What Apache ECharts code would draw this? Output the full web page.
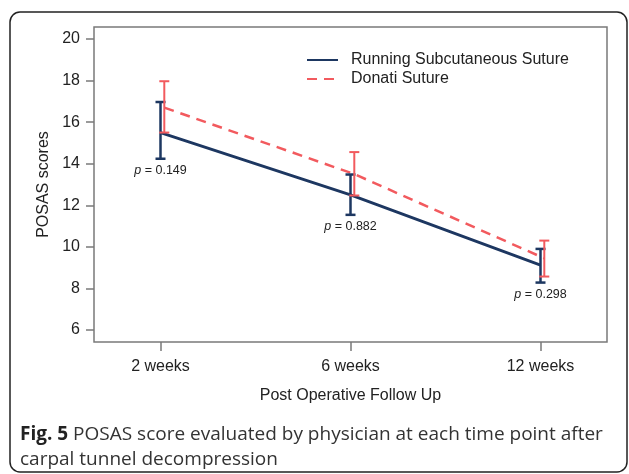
<!DOCTYPE html>
<html>
<head>
<meta charset="utf-8">
<script src="https://cdn.jsdelivr.net/npm/echarts@6/dist/echarts.min.js"></script>
<style>
  html, body { margin: 0; padding: 0; background: #fff; }
  #chart { width: 629px; height: 474px; }
</style>
</head>
<body>
<div id="chart"></div>
<script>
// time points
const categories = ['2 weeks', '6 weeks', '12 weeks'];
const yTicks = [6, 8, 10, 12, 14, 16, 18, 20];

// Running Subcutaneous Suture
const runningMean = [15.5, 12.5, 9.12];
const runningLow = [14.24, 11.54, 8.28];
const runningHigh = [16.97, 13.48, 9.9];

// Donati Suture
const donatiMean = [16.7, 13.5, 9.45];
const donatiLow = [15.5, 12.47, 8.57];
const donatiHigh = [17.97, 14.56, 10.3];

const pValues = ['0.149', '0.882', '0.298'];

const NAVY = '#1d3761';
const RED = '#f25a5e';
const FONT = '"Liberation Sans", Arial, sans-serif';
const dodge = 0.02;

function errorSeries(name, low, high, shift, color, width, withP) {
  return {
    name: name,
    type: 'custom',
    z: 5,
    data: low.map((v, i) => [i + shift, v, high[i], i]),
    renderItem: function (params, api) {
      const x = api.value(0);
      const lo = api.coord([x, api.value(1)]);
      const hi = api.coord([x, api.value(2)]);
      const cap = 5;
      const children = [
        { type: 'line', shape: { x1: lo[0], y1: lo[1], x2: hi[0], y2: hi[1] }, style: { stroke: color, lineWidth: width } },
        { type: 'line', shape: { x1: hi[0] - cap, y1: hi[1], x2: hi[0] + cap, y2: hi[1] }, style: { stroke: color, lineWidth: width } },
        { type: 'line', shape: { x1: lo[0] - cap, y1: lo[1], x2: lo[0] + cap, y2: lo[1] }, style: { stroke: color, lineWidth: width } }
      ];
      if (withP) {
        children.push({
          type: 'text',
          x: lo[0],
          y: lo[1] + 5,
          style: {
            text: '{i|p} = ' + pValues[api.value(3)],
            align: 'center',
            verticalAlign: 'top',
            fill: '#222',
            font: '12.5px ' + FONT,
            rich: { i: { fontStyle: 'italic', fontSize: 12.5, fontFamily: FONT, fill: '#222' } }
          }
        });
      }
      return { type: 'group', children: children };
    }
  };
}

const chart = echarts.init(document.getElementById('chart'));
chart.setOption({
  animation: false,
  backgroundColor: '#fff',
  grid: {
    left: 94, right: 22, top: 27, bottom: 132,
    show: true, borderColor: '#7a7a7a', borderWidth: 1.5
  },
  legend: {
    orient: 'vertical',
    left: 301, top: 47,
    itemWidth: 31, itemHeight: 14, itemGap: 3,
    itemStyle: { opacity: 0 },
    textStyle: { fontFamily: FONT, fontSize: 16, color: '#222', padding: [0, 0, 0, 8] },
    data: ['Running Subcutaneous Suture', 'Donati Suture']
  },
  xAxis: {
    type: 'value',
    min: -0.35, max: 2.35,
    splitLine: { show: false },
    axisLine: { show: false, onZero: false },
    axisTick: { show: true, customValues: [0, 1, 2], length: 9, lineStyle: { color: '#7a7a7a', width: 1.5 } },
    axisLabel: {
      customValues: [0, 1, 2],
      formatter: v => categories[Math.round(v)],
      margin: 17, fontFamily: FONT, fontSize: 16, color: '#222'
    },
    name: 'Post Operative Follow Up',
    nameLocation: 'middle', nameGap: 46,
    nameTextStyle: { fontFamily: FONT, fontSize: 16, color: '#222' }
  },
  yAxis: {
    type: 'value',
    min: 5.42, max: 20.58,
    splitLine: { show: false },
    axisLine: { show: false, onZero: false },
    axisTick: { show: true, customValues: yTicks, length: 8, lineStyle: { color: '#7a7a7a', width: 1.5 } },
    axisLabel: {
      customValues: yTicks,
      margin: 14, fontFamily: FONT, fontSize: 16, color: '#222'
    },
    name: 'POSAS scores',
    nameLocation: 'middle', nameGap: 41,
    nameTextStyle: { fontFamily: FONT, fontSize: 16, color: '#222' }
  },
  graphic: [
    {
      type: 'rect',
      shape: { x: 10, y: 12, width: 617, height: 460, r: 10 },
      style: { fill: 'none', stroke: '#222', lineWidth: 1.5 },
      silent: true
    },
    {
      type: 'text',
      left: 20, top: 422,
      style: {
        text: '{b|Fig. 5} POSAS score evaluated by physician at each time point after\ncarpal tunnel decompression',
        font: '19px "Open Sans", sans-serif',
        fill: '#333',
        lineHeight: 25,
        rich: { b: { fontWeight: 'bold', fontFamily: '"Open Sans", sans-serif', fontSize: 19, fill: '#222' } }
      }
    }
  ],
  series: [
    {
      name: 'Running Subcutaneous Suture',
      type: 'line',
      symbol: 'none',
      color: NAVY,
      lineStyle: { color: NAVY, width: 2.8 },
      data: runningMean.map((v, i) => [i, v]),
      z: 3
    },
    {
      name: 'Donati Suture',
      type: 'line',
      symbol: 'none',
      color: RED,
      lineStyle: { color: RED, width: 2.5, type: [10, 7] },
      data: donatiMean.map((v, i) => [i + dodge, v]),
      z: 4
    },
    errorSeries('runningErr', runningLow, runningHigh, 0, NAVY, 2.5, true),
    errorSeries('donatiErr', donatiLow, donatiHigh, dodge, RED, 2, false)
  ]
});
</script>
</body>
</html>
